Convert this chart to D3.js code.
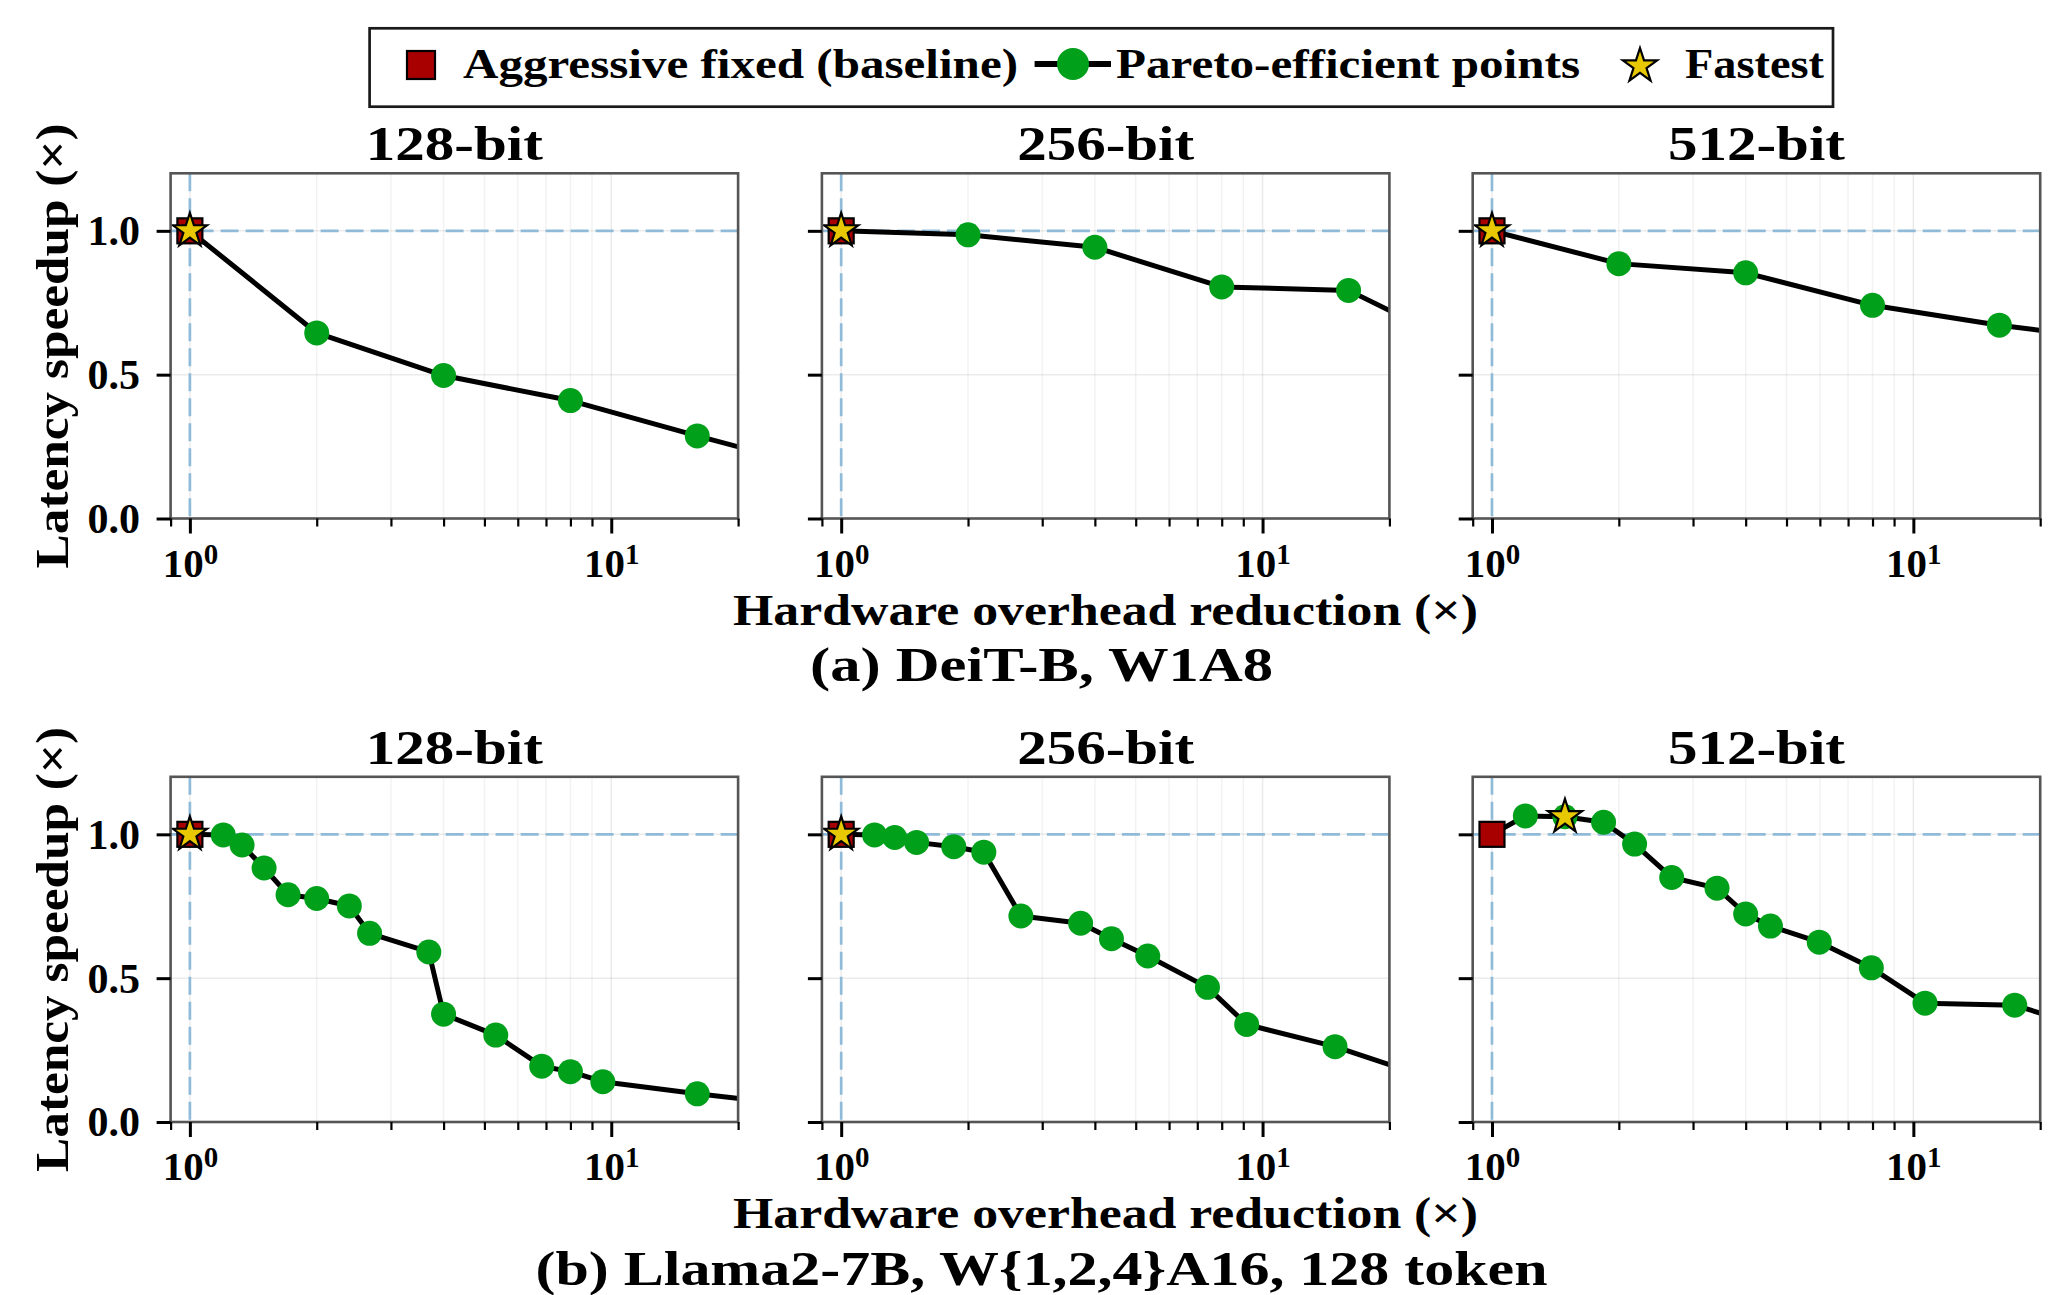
<!DOCTYPE html>
<html><head><meta charset="utf-8">
<script src="https://cdn.jsdelivr.net/npm/d3@7"></script>
<style>body{margin:0;background:#fff} svg{display:block}</style>
</head><body>
<svg id="chart" width="2070" height="1295"></svg>
<script>
// ---------------- data ----------------
const panelTitles = ["128-bit", "256-bit", "512-bit"];
const rowCaptions = ["(a) DeiT-B, W1A8", "(b) Llama2-7B, W{1,2,4}A16, 128 token"];
const legendLabels = ["Aggressive fixed (baseline)", "Pareto-efficient points", "Fastest"];
const xAxisLabel = "Hardware overhead reduction (×)";
const yAxisLabel = "Latency speedup (×)";
const yTickValues = [0, 0.5, 1.0];
const yTickLabels = ["0.0", "0.5", "1.0"];
const xMajorTicks = [1, 10];
const xMajorExponents = ["0", "1"];
const xMinorTicks = [0.9, 2, 3, 4, 5, 6, 7, 8, 9, 20];
const xDomain = [0.9, 20];
const yDomain = [0, 1.2];
const refX = 1.0;
const refY = 1.0;

// (a) DeiT-B, W1A8
const deit128X = [1, 2, 4, 8, 16, 32];
const deit128Y = [1.0, 0.645, 0.497, 0.41, 0.287, 0.17];
const deit256X = [1, 2, 4, 8, 16, 32];
const deit256Y = [1.0, 0.986, 0.943, 0.805, 0.793, 0.576];
const deit512X = [1, 2, 4, 8, 16, 32];
const deit512Y = [1.0, 0.886, 0.854, 0.741, 0.672, 0.616];
// (b) Llama2-7B
const llama128X = [1, 1.2, 1.33, 1.5, 1.71, 2.0, 2.39, 2.67, 3.69, 4.0, 5.32, 6.84, 8.0, 9.55, 16, 32];
const llama128Y = [1.0, 0.998, 0.963, 0.883, 0.79, 0.777, 0.751, 0.656, 0.591, 0.375, 0.302, 0.194, 0.175, 0.14, 0.098, 0.048];
const llama256X = [1, 1.2, 1.34, 1.51, 1.85, 2.18, 2.67, 3.7, 4.38, 5.34, 7.4, 9.17, 14.86, 32];
const llama256Y = [1.0, 0.998, 0.989, 0.972, 0.957, 0.938, 0.716, 0.691, 0.637, 0.577, 0.468, 0.339, 0.262, 0.101];
const llama512X = [1, 1.2, 1.49, 1.84, 2.18, 2.67, 3.42, 4.0, 4.58, 5.98, 7.95, 10.66, 17.4, 32];
const llama512Y = [1.0, 1.064, 1.061, 1.042, 0.966, 0.85, 0.813, 0.723, 0.681, 0.625, 0.536, 0.413, 0.406, 0.287];

// baseline and fastest markers, panel order: a128, a256, a512, b128, b256, b512
const baselineX = [1, 1, 1, 1, 1, 1];
const baselineY = [1.0, 1.0, 1.0, 1.0, 1.0, 1.0];
const fastestX = [1, 1, 1, 1, 1, 1.49];
const fastestY = [1.0, 1.0, 1.0, 1.0, 1.0, 1.061];

// ---------------- layout / style ----------------
const W = 2070, H = 1295;
const FONT = "'Liberation Serif', 'Times New Roman', serif";
const colLeft = [170.6, 821.9, 1472.7];
const plotW = 567.5;
const rowTop = [173.3, 776.8];
const plotH = 345.2;
const GREEN = "#00a01b", RED = "#a80000", GOLD = "#e8c800", REF = "#8fbbd9";

const panels = [
  {row: 0, col: 0, xs: deit128X, ys: deit128Y},
  {row: 0, col: 1, xs: deit256X, ys: deit256Y},
  {row: 0, col: 2, xs: deit512X, ys: deit512Y},
  {row: 1, col: 0, xs: llama128X, ys: llama128Y},
  {row: 1, col: 1, xs: llama256X, ys: llama256Y},
  {row: 1, col: 2, xs: llama512X, ys: llama512Y}
];

const svg = d3.select("#chart");
svg.append("rect").attr("width", W).attr("height", H).attr("fill", "#fff");
const defs = svg.append("defs");

function fit(sel, len) {
  sel.attr("textLength", len).attr("lengthAdjust", "spacingAndGlyphs");
  return sel;
}
function txt(parent, s, x, y, size, anchor) {
  return parent.append("text").attr("x", x).attr("y", y)
    .attr("font-family", FONT).attr("font-weight", "bold")
    .attr("font-size", size).attr("fill", "#000")
    .attr("text-anchor", anchor || "start").text(s);
}
function starSize(r) { return r * r / 0.8908130915292852; }

panels.forEach((p, pi) => {
  const left = colLeft[p.col], top = rowTop[p.row];
  const x = d3.scaleLog().domain(xDomain).range([left, left + plotW]);
  const y = d3.scaleLinear().domain(yDomain).range([top + plotH, top]);
  const g = svg.append("g");
  const clipId = "clip" + pi;
  defs.append("clipPath").attr("id", clipId).append("rect")
    .attr("x", left).attr("y", top).attr("width", plotW).attr("height", plotH);

  // grid
  g.append("g").selectAll("line").data(xMinorTicks).join("line")
    .attr("x1", d => x(d)).attr("x2", d => x(d)).attr("y1", top).attr("y2", top + plotH)
    .attr("stroke", "#000").attr("stroke-opacity", 0.05).attr("stroke-width", 1.5);
  g.append("g").selectAll("line").data(xMajorTicks).join("line")
    .attr("x1", d => x(d)).attr("x2", d => x(d)).attr("y1", top).attr("y2", top + plotH)
    .attr("stroke", "#000").attr("stroke-opacity", 0.08).attr("stroke-width", 1.5);
  g.append("g").selectAll("line").data(yTickValues).join("line")
    .attr("x1", left).attr("x2", left + plotW).attr("y1", d => y(d)).attr("y2", d => y(d))
    .attr("stroke", "#000").attr("stroke-opacity", 0.08).attr("stroke-width", 1.5);

  // reference dashed lines
  g.append("line").attr("x1", x(refX)).attr("x2", x(refX)).attr("y1", top).attr("y2", top + plotH)
    .attr("stroke", REF).attr("stroke-width", 2.7).attr("stroke-dasharray", "18 7");
  g.append("line").attr("x1", left).attr("x2", left + plotW).attr("y1", y(refY)).attr("y2", y(refY))
    .attr("stroke", REF).attr("stroke-width", 2.7).attr("stroke-dasharray", "18 7");

  // data
  const pts = p.xs.map((v, i) => [v, p.ys[i]]);
  const dg = g.append("g").attr("clip-path", `url(#${clipId})`);
  dg.append("path").datum(pts)
    .attr("d", d3.line().x(d => x(d[0])).y(d => y(d[1])))
    .attr("fill", "none").attr("stroke", "#000").attr("stroke-width", 5)
    .attr("stroke-linejoin", "round");
  dg.selectAll("circle").data(pts).join("circle")
    .attr("cx", d => x(d[0])).attr("cy", d => y(d[1])).attr("r", 12.5).attr("fill", GREEN);
  const bs = 25;
  dg.append("rect")
    .attr("x", x(baselineX[pi]) - bs / 2).attr("y", y(baselineY[pi]) - bs / 2)
    .attr("width", bs).attr("height", bs)
    .attr("fill", RED).attr("stroke", "#000").attr("stroke-width", 2.2);
  dg.append("path")
    .attr("d", d3.symbol(d3.symbolStar, starSize(18))())
    .attr("transform", `translate(${x(fastestX[pi])},${y(fastestY[pi])})`)
    .attr("fill", GOLD).attr("stroke", "#000").attr("stroke-width", 2.2)
    .attr("stroke-linejoin", "miter");

  // frame
  g.append("rect").attr("x", left).attr("y", top).attr("width", plotW).attr("height", plotH)
    .attr("fill", "none").attr("stroke", "#555").attr("stroke-width", 2.6);

  // y axis
  const ya = svg.append("g").attr("transform", `translate(${left},0)`)
    .call(d3.axisLeft(y).tickValues(yTickValues).tickSize(14).tickPadding(16.6)
      .tickFormat((d, i) => p.col === 0 ? yTickLabels[i] : ""));
  ya.select(".domain").remove();
  ya.selectAll(".tick line").attr("stroke", "#000").attr("stroke-width", 3);
  ya.selectAll(".tick text").attr("font-family", FONT).attr("font-weight", "bold")
    .attr("font-size", 42).attr("fill", "#000").attr("dy", "0.33em");

  // x axis minor
  const xm = svg.append("g").attr("transform", `translate(0,${top + plotH})`)
    .call(d3.axisBottom(x).tickValues(xMinorTicks).tickSize(8).tickFormat(() => ""));
  xm.select(".domain").remove();
  xm.selectAll(".tick line").attr("stroke", "#000").attr("stroke-width", 2.2);
  // x axis major
  const xa = svg.append("g").attr("transform", `translate(0,${top + plotH})`)
    .call(d3.axisBottom(x).tickValues(xMajorTicks).tickSize(15).tickFormat(() => ""));
  xa.select(".domain").remove();
  xa.selectAll(".tick line").attr("stroke", "#000").attr("stroke-width", 3);
  xa.selectAll(".tick text").each(function (d, i) {
    const t = d3.select(this).text(null).attr("y", 58).attr("dy", null)
      .attr("font-family", FONT).attr("font-weight", "bold").attr("fill", "#000")
      .attr("font-size", 41).attr("text-anchor", "middle");
    t.append("tspan").text("10");
    t.append("tspan").attr("font-size", 29).attr("dy", -13).text(xMajorExponents[i]);
  });

  // title
  fit(txt(svg, panelTitles[p.col], left + plotW / 2, top - 13, 49, "middle"), 177);
});

// row labels
rowTop.forEach((top, r) => {
  const bottom = top + plotH;
  fit(txt(svg, xAxisLabel, 1105.6, bottom + 106, 44, "middle"), 745);
  fit(txt(svg, rowCaptions[r], 1041.5, bottom + 162.5, 48, "middle"), r === 0 ? 463 : 1012);
  const cy = top + plotH / 2;
  fit(txt(svg, yAxisLabel, 0, 0, 46, "middle"), 445)
    .attr("transform", `translate(68,${cy}) rotate(-90)`);
});

// legend
const lg = svg.append("g");
lg.append("rect").attr("x", 369.6).attr("y", 28.3).attr("width", 1463.4).attr("height", 78.4)
  .attr("fill", "#fff").attr("stroke", "#1a1a1a").attr("stroke-width", 2.7);
const lsq = 28;
lg.append("rect").attr("x", 421 - lsq / 2).attr("y", 65 - lsq / 2).attr("width", lsq).attr("height", lsq)
  .attr("fill", RED).attr("stroke", "#000").attr("stroke-width", 2.2);
fit(txt(lg, legendLabels[0], 463, 78, 43), 555);
lg.append("line").attr("x1", 1034.6).attr("x2", 1111).attr("y1", 64).attr("y2", 64)
  .attr("stroke", "#000").attr("stroke-width", 6);
lg.append("circle").attr("cx", 1073).attr("cy", 64).attr("r", 16).attr("fill", GREEN);
fit(txt(lg, legendLabels[1], 1116, 78, 43), 464);
lg.append("path").attr("d", d3.symbol(d3.symbolStar, starSize(18))())
  .attr("transform", "translate(1640,66)")
  .attr("fill", GOLD).attr("stroke", "#000").attr("stroke-width", 2.2);
fit(txt(lg, legendLabels[2], 1685, 78, 43), 139);
</script>
</body></html>
